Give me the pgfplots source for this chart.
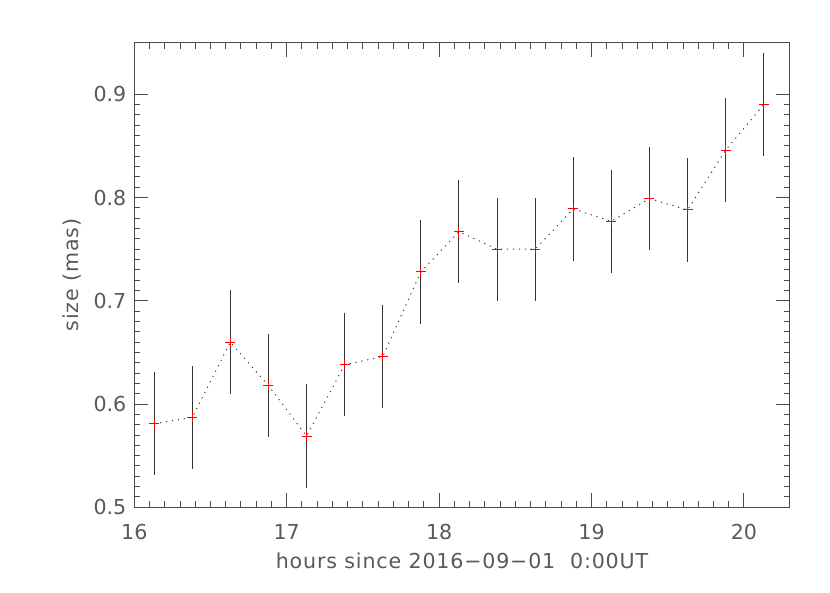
\documentclass[border=0pt]{standalone}
\usepackage{fontspec}
\setmainfont{DejaVu Sans}
\usepackage{pgfplots}
\pgfplotsset{compat=1.18}
\begin{document}
\begin{tikzpicture}
\useasboundingbox (-67.15pt,-42.85pt) rectangle (347.85pt,253.65pt);
\begin{axis}[
  at={(0pt,0pt)}, anchor=south west,
  scale only axis,
  width=327.7pt, height=232.3pt,
  xmin=16, xmax=20.3,
  ymin=0.5, ymax=0.95,
  xtick={16,17,18,19,20},
  ytick={0.5,0.6,0.7,0.8,0.9},
  minor x tick num=9,
  minor y tick num=9,
  tick align=inside,
  major tick length=7pt,
  minor tick length=3pt,
  axis line style={black!70, line width=0.5pt},
  every tick/.style={black!70, line width=0.5pt},
  /pgf/number format/assume math mode=true,
  yticklabel style={/pgf/number format/fixed, /pgf/number format/fixed zerofill, /pgf/number format/precision=1, anchor=east, inner sep=0pt, xshift=-3.8pt},
  xticklabel style={anchor=center, yshift=-12.2pt},
  every tick label/.append style={font=\fontsize{10.3pt}{12pt}\selectfont, text=black!65},
  xlabel={hours since 2016\textminus 09\textminus 01\ \ 0:00UT},
  ylabel={size (mas)},
  label style={font=\fontsize{10.3pt}{12pt}\selectfont\addfontfeature{LetterSpace=4}, text=black!65},
  xlabel style={at={(axis description cs:0.5,0)}, anchor=base, yshift=-30.4pt},
  ylabel style={at={(axis description cs:0,0.5)}, anchor=base, yshift=28pt},
]
\addplot[black!75, line width=0.5pt, dash pattern=on 0.6pt off 2.4pt, no marks] table[x=x, y=y] {
x y e
16.13 0.581 0.05
16.38 0.587 0.05
16.63 0.660 0.05
16.88 0.618 0.05
17.13 0.569 0.05
17.38 0.638 0.05
17.63 0.646 0.05
17.88 0.728 0.05
18.13 0.767 0.05
18.38 0.750 0.05
18.63 0.750 0.05
18.88 0.789 0.05
19.13 0.777 0.05
19.38 0.799 0.05
19.63 0.788 0.05
19.88 0.846 0.05
20.13 0.890 0.05
};
\addplot[draw=none, mark=+, mark size=2.5pt, mark options={red, solid, line width=0.5pt},
  error bars/.cd, y dir=both, y explicit, error mark=none,
  error bar style={black!80, line width=0.5pt, solid}]
  table[x=x, y=y, y error=e] {
x y e
16.13 0.581 0.05
16.38 0.587 0.05
16.63 0.660 0.05
16.88 0.618 0.05
17.13 0.569 0.05
17.38 0.638 0.05
17.63 0.646 0.05
17.88 0.728 0.05
18.13 0.767 0.05
18.38 0.750 0.05
18.63 0.750 0.05
18.88 0.789 0.05
19.13 0.777 0.05
19.38 0.799 0.05
19.63 0.788 0.05
19.88 0.846 0.05
20.13 0.890 0.05
};
\end{axis}
\end{tikzpicture}
\end{document}
